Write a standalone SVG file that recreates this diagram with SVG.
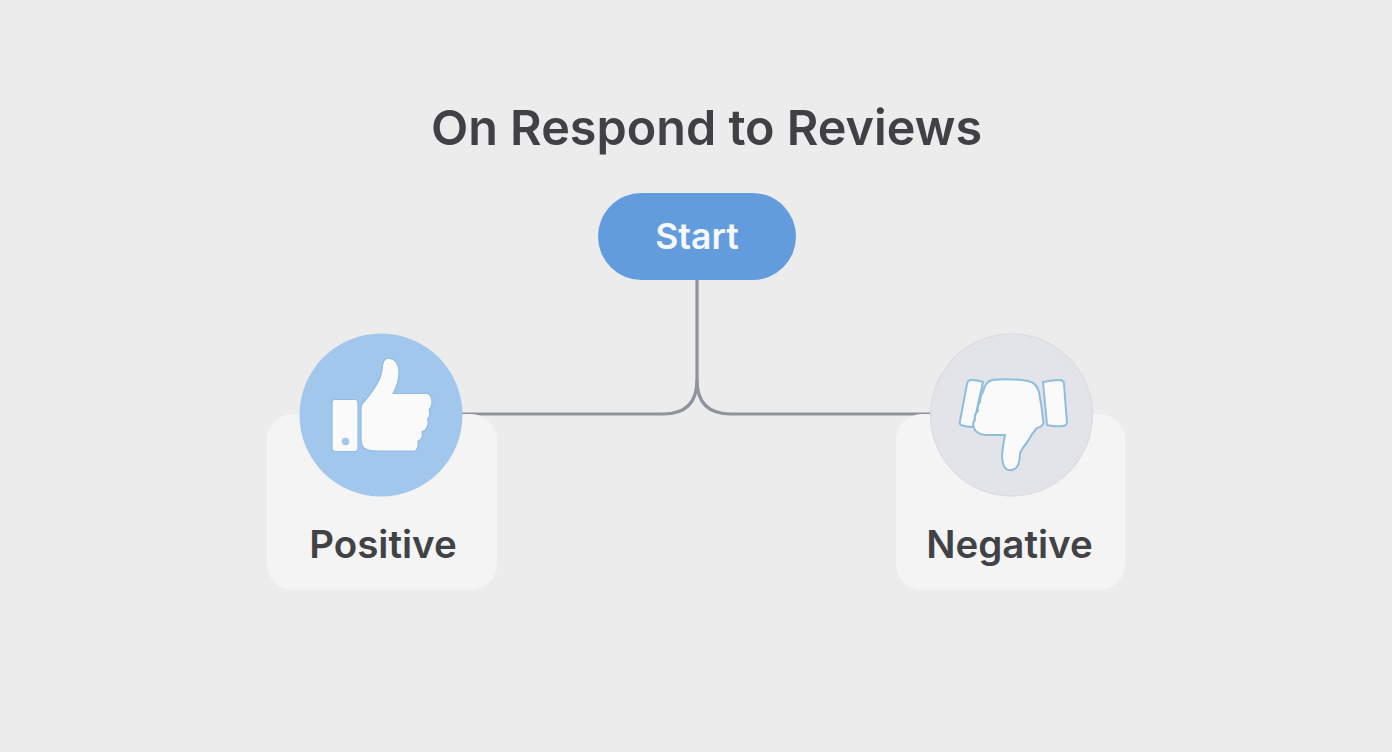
<svg xmlns="http://www.w3.org/2000/svg" width="1392" height="752" viewBox="0 0 1392 752">
<style>
text{font-family:"Inter","Roboto","Liberation Sans",sans-serif;text-anchor:middle;font-weight:600}
.lbl{font-size:38.500px;fill:#414245}
.card{fill:#f4f4f4}
.conn{fill:none;stroke:#8f939b;stroke-width:3.200}
.hand{fill:#fafafa;stroke:#8fbddc;stroke-width:2;stroke-linejoin:round}
.up{fill:#fafafa;stroke:#8fbce2;stroke-width:1.200;stroke-linejoin:round}
</style>
<rect width="1392" height="752" fill="#ececec"/>
<text id="title" x="706.500" y="145" font-size="48.500" fill="#404144">On Respond to Reviews</text>
<g id="connectors">
<path class="conn" d="M697 280V380Q697 414 663 414H462"/>
<path class="conn" d="M697 380Q697 414 731 414H931"/>
</g>
<g id="start">
<rect x="598" y="193" width="198" height="87" rx="43.500" fill="#629cdc"/>
<text x="697" y="249" font-size="35.500" fill="#f6f8fb">Start</text>
</g>
<g id="positive">
<rect class="card" x="267" y="414" width="230" height="176" rx="26"/>
<circle cx="381" cy="415" r="81.500" fill="#a2c7ec"/>
<rect class="up" x="332" y="399.500" width="26" height="52" rx="3"/>
<circle cx="345.500" cy="441.500" r="3.800" fill="#a2c7ec"/>
<path class="up" d="M362 404Q372 393 378 382Q382 375 382.500 365Q384 358 388.500 358Q398 359 399 371Q399.500 382 393 393.500H427Q432 395 432 402Q432 407 429 409.500Q431.500 415 427.500 419Q429.500 424 426 429Q425 431.500 422 431.500Q424 439 418 441Q419 449 415 451H378Q368 451 364 448Q361 445 361 437V410Q361 406 362 404Z"/>
<text class="lbl" x="383" y="558">Positive</text>
</g>
<g id="negative">
<rect class="card" x="896" y="414" width="229" height="176" rx="26"/>
<circle cx="1011.500" cy="415" r="81" fill="#e3e3ea" stroke="#d8d8de" stroke-width="1"/>
<path class="hand" d="M971 380Q978 380 983 382L973 427Q966 427 961 425Q959 424 960 421L967 384Q968 380 971 380Z"/>
<path class="hand" d="M1043 382Q1052 380 1061 380Q1064 381 1064 384L1067 423Q1066 426 1063 426Q1054 427 1047 425Z"/>
<path class="hand" d="M992 380Q1010 378 1028 381Q1037 383 1039 392Q1042 408 1043.500 423Q1042 427 1037 428Q1032 433 1028 441Q1023 447 1020 453Q1020 464 1016 468Q1011 472 1006 469Q1002 465 1002 455Q1003 445 1005 435H985Q976 434 974 428Q972 423 975 420Q974 414 978 411Q977 405 980 402Q980 396 983 392Q985 382 992 380Z"/>
<text class="lbl" x="1009.500" y="558">Negative</text>
</g>
</svg>
